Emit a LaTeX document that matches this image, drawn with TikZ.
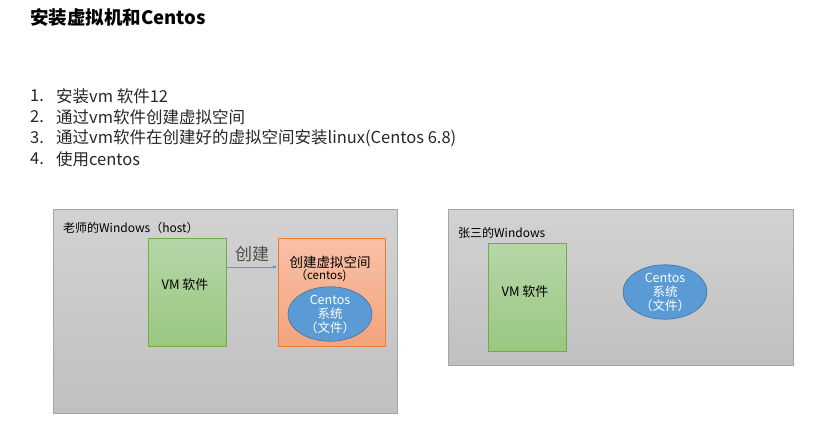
\documentclass[tikz,border=0pt]{standalone}
\usepackage{fontspec}
\setmainfont{Noto Sans CJK SC}
\usetikzlibrary{arrows}
\usetikzlibrary{shapes.geometric}
\definecolor{hostline}{HTML}{A5A5A5}
\definecolor{hosttop}{HTML}{D2D2D2}
\definecolor{hostbot}{HTML}{C0C0C0}
\definecolor{softline}{HTML}{70AD47}
\definecolor{softtop}{HTML}{B6D6A8}
\definecolor{softbot}{HTML}{9AC780}
\definecolor{spaceline}{HTML}{ED7D31}
\definecolor{spacetop}{HTML}{F8C1A8}
\definecolor{spacebot}{HTML}{F4A37C}
\definecolor{diskfill}{HTML}{5B9BD5}
\definecolor{diskline}{HTML}{41719C}
\tikzset{
  hostbox/.style={draw = hostline, top color = hosttop, bottom color = hostbot, line width = 0.8pt,
    inner sep = 0pt},
  softbox/.style={draw = softline, top color = softtop, bottom color = softbot,
    line width = 0.8pt, minimum width = 78pt, minimum height = 108pt, inner sep = 0pt},
  spacebox/.style={draw = spaceline, top color = spacetop, bottom color = spacebot,
    line width = 0.8pt, minimum width = 107pt, minimum height = 108pt, inner sep = 0pt},
  osdisk/.style={ellipse, draw = diskline, fill = diskfill, line width = 0.6pt,
    minimum width = 84pt, minimum height = 46pt, inner sep = 0pt, text = white, align = center,
    font = \fontsize{12.5}{14}\selectfont},
  listtext/.style={anchor = west, inner sep = 0pt, font = \fontsize{16.5}{18}\selectfont, text = black!85},
  boxlabel/.style={anchor = west, inner sep = 0pt, font = \fontsize{12}{14}\selectfont},
  link/.style={draw = diskfill, -latex, line width = 0.6pt}
}

\begin{document}
\begin{tikzpicture}[x = 1pt, y = -1pt]

			\useasboundingbox (0, 0) rectangle (817, 426); % page

			\node[anchor = west, inner sep = 0pt, font = \fontsize{18.5}{20}\selectfont\bfseries] (title) at (30, 18) {安装虚拟机和Centos};

			% steps
			\node[listtext] (n1) at (30, 96) {1.};
			\node[listtext] (s1) at (56, 96) {安装vm 软件12};
			\node[listtext] (n2) at (30, 117) {2.};
			\node[listtext] (s2) at (56, 117) {通过vm软件创建虚拟空间};
			\node[listtext] (n3) at (30, 138) {3.};
			\node[listtext] (s3) at (56, 138) {通过vm软件在创建好的虚拟空间安装linux(Centos 6.8)};
			\node[listtext] (n4) at (30, 159) {4.};
			\node[listtext] (s4) at (56, 159) {使用centos};

			% teacher's host
			\node[hostbox, minimum width = 344pt, minimum height = 204pt] (hostA) at (225, 311) {};
			\node[boxlabel] (hostAlab) at (63, 228) {老师的Windows（host）};
			\node[softbox] (vmA) at (187, 292) {};
			\node[font = \fontsize{13}{15}\selectfont] (vmAlab) at (185, 285) {VM 软件};
			\node[spacebox] (spaceA) at (331.5, 292) {};
			\node[font = \fontsize{13.5}{15}\selectfont] (spaceAlab) at (330, 262) {创建虚拟空间};
			\node[font = \fontsize{11.5}{13}\selectfont] (spaceAsub) at (321, 276) {（centos)};
			\node[osdisk] (diskA) at (330, 314) {Centos\\系统\\（文件）};
			\draw[link] ([yshift = 25pt]vmA.east) -- node[above = 2pt, font = \fontsize{17}{19}\selectfont, text = black!70]{创建} ([yshift = 25pt]spaceA.west);

			% Zhang San's host
			\node[hostbox, minimum width = 345pt, minimum height = 156pt] (hostB) at (620.5, 287) {};
			\node[boxlabel] (hostBlab) at (458, 233) {张三的Windows};
			\node[softbox] (vmB) at (527.5, 297) {};
			\node[font = \fontsize{13}{15}\selectfont] (vmBlab) at (525, 292) {VM 软件};
			\node[osdisk] (diskB) at (665, 292) {Centos\\系统\\（文件）};

		\end{tikzpicture}
\end{document}
